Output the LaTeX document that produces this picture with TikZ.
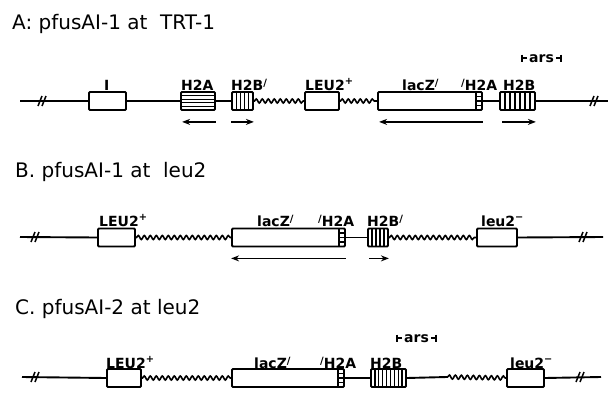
\documentclass[tikz,border=0pt]{standalone}
\usepackage{fontspec}
\setmainfont{DejaVu Sans}
\usetikzlibrary{arrows.meta,decorations.pathmorphing,calc}
\newcommand\prm{\raisebox{4pt}{\fontsize{10}{10}\selectfont /}}
\begin{document}
\begin{tikzpicture}[x=1pt,y=-1pt,
  dna/.style={line width=1.9pt},
  wavy/.style={line width=1.6pt, decorate, decoration={snake, segment length=6pt, amplitude=2pt, pre length=0.5pt, post length=0.5pt}},
  gene/.style={draw, line width=1.8pt, rounded corners=1pt, inner sep=0pt, minimum height=18pt, fill=white},
  lbl/.style={font=\fontsize{14}{14}\selectfont\bfseries, inner sep=0pt, anchor=base west},
  ttl/.style={font=\fontsize{20}{20}\selectfont, inner sep=0pt, anchor=base west},
  gar/.style={line width=1.7pt, -{Stealth[length=8pt,width=6pt]}},
  stripe/.style={line width=1.3pt},
  brk/.style={line width=1.5pt},
  tick/.style={line width=1.4pt},
  vstr/.style={path picture={\foreach \i in {1,...,#1}{\pgfmathsetmacro\f{\i/(#1+1)}
      \draw[stripe] ($(path picture bounding box.south west)!\f!(path picture bounding box.south east)$) -- ($(path picture bounding box.north west)!\f!(path picture bounding box.north east)$);}}},
  hstr/.style={path picture={\foreach \i in {1,...,#1}{\pgfmathsetmacro\f{\i/(#1+1)}
      \draw[stripe] ($(path picture bounding box.north west)!\f!(path picture bounding box.south west)$) -- ($(path picture bounding box.north east)!\f!(path picture bounding box.south east)$);}}},
  lzend/.style={path picture={\draw[stripe] ([xshift=-6pt]path picture bounding box.north east) -- ([xshift=-6pt]path picture bounding box.south east);
      \foreach \t in {0.25,0.5,0.75} \draw[stripe] ($(path picture bounding box.north east)!\t!(path picture bounding box.south east)$) -- ++(-6,0);}},
]
\useasboundingbox (0,0) rectangle (608,399);

% ---------------- Row A ----------------
\node[ttl] (tA) at (12,29) {A: pfusAI-1 at \ TRT-1};
\coordinate (sA) at (20,101);
\coordinate (eA) at (608,101);
\coordinate (bA1) at (43,101);
\coordinate (bA2) at (595,101);
\node[gene, minimum width=37pt] (IA) at (107.5,101) {};
\node[gene, minimum width=34pt, hstr=4] (h2aA) at (198,101) {};
\node[gene, minimum width=21pt, vstr=4] (h2bpA) at (242.5,101) {};
\node[gene, minimum width=34pt] (leuA) at (322,101) {};
\node[gene, minimum width=104pt, lzend] (lzA) at (430,101) {};
\node[gene, minimum width=35pt, vstr=6] (h2bA) at (517.5,101) {};
\draw[dna] (sA) -- (IA.west);
\draw[dna] (IA.east) -- (h2aA.west);
\draw[dna] (h2aA.east) -- (h2bpA.west);
\draw[wavy] (h2bpA.east) -- (leuA.west);
\draw[wavy] (leuA.east) -- (lzA.west);
\draw[dna] (lzA.east) -- (h2bA.west);
\draw[dna] (h2bA.east) -- (eA);
\draw[brk] (bA1) ++(-5,5) -- ++(4,-10) (bA1) ++(-1,5) -- ++(4,-10);
\draw[brk] (bA2) ++(-5,5) -- ++(4,-10) (bA2) ++(-1,5) -- ++(4,-10);
\node[lbl] (lIA) at (104,90) {I};
\node[lbl] (lh2aA) at (181,90) {H2A};
\node[lbl] (lh2bpA) at (231,90) {H2B\prm};
\node[lbl] (lleuA) at (305,90) {LEU2\textsuperscript{+}};
\node[lbl] (llzA) at (402,90) {lacZ\prm};
\node[lbl] (lh2a2A) at (461,90) {\prm H2A};
\node[lbl] (lh2bA) at (503,90) {H2B};
\node[lbl] (arsA) at (529,62) {ars};
\draw[tick] (arsA.west) ++(-2,0) -- ++(-5,0) ++(0,-3.5) -- ++(0,7);
\draw[tick] (arsA.east) ++(2,0) -- ++(5,0) ++(0,-3.5) -- ++(0,7);
\draw[gar] ([yshift=-11pt]h2aA.south east) -- ([yshift=-11pt,xshift=2pt]h2aA.south west);
\draw[gar] ([yshift=-11pt]h2bpA.south west) -- ([yshift=-11pt]h2bpA.south east);
\draw[gar] ([yshift=-11pt]lzA.south east) -- ([yshift=-11pt,xshift=2pt]lzA.south west);
\draw[gar] ([yshift=-11pt,xshift=3pt]h2bA.south west) -- ([yshift=-11pt]h2bA.south east);

% ---------------- Row B ----------------
\node[ttl] (tB) at (15,177) {B. pfusAI-1 at \ leu2};
\coordinate (sB) at (20,237);
\coordinate (eB) at (603,237);
\coordinate (bB1) at (36,237);
\coordinate (bB2) at (584,237);
\node[gene, minimum width=37pt] (leuB) at (116.5,237.5) {};
\node[gene, minimum width=113pt, lzend] (lzB) at (288.5,237.5) {};
\node[gene, minimum width=20pt, vstr=4] (h2bpB) at (378,237.5) {};
\node[gene, minimum width=40pt] (leumB) at (497,237.5) {};
\draw[dna] (sB) -- (leuB.west);
\draw[wavy] (leuB.east) -- (lzB.west);
\draw[dna] (lzB.east) -- (h2bpB.west);
\draw[wavy] (h2bpB.east) -- (leumB.west);
\draw[dna] (leumB.east) -- (eB);
\draw[brk] (bB1) ++(-5,5) -- ++(4,-10) (bB1) ++(-1,5) -- ++(4,-10);
\draw[brk] (bB2) ++(-5,5) -- ++(4,-10) (bB2) ++(-1,5) -- ++(4,-10);
\node[lbl] (lleuB) at (99,226) {LEU2\textsuperscript{+}};
\node[lbl] (llzB) at (257,226) {lacZ\prm};
\node[lbl] (lh2aB) at (318,226) {\prm H2A};
\node[lbl] (lh2bpB) at (367,226) {H2B\prm};
\node[lbl] (lleumB) at (481,226) {leu2\textsuperscript{\textminus}};
\draw[gar] ([yshift=-11pt]lzB.south east) -- ([yshift=-11pt]lzB.south west);
\draw[gar] ([yshift=-11pt,xshift=2pt]h2bpB.south west) -- ([yshift=-11pt]h2bpB.south east);

% ---------------- Row C ----------------
\node[ttl] (tC) at (15,314) {C. pfusAI-2 at leu2};
\coordinate (sC) at (22,377);
\coordinate (eC) at (601,377);
\coordinate (bC1) at (36,377);
\coordinate (bC2) at (581,377);
\coordinate (wC) at (447,377);
\node[gene, minimum width=34pt] (leuC) at (124,378) {};
\node[gene, minimum width=112pt, lzend] (lzC) at (288,378) {};
\node[gene, minimum width=35pt, vstr=8] (h2bC) at (388.5,378) {};
\node[gene, minimum width=37pt] (leumC) at (525.5,378) {};
\draw[dna] (sC) -- (leuC.west);
\draw[wavy] (leuC.east) -- (lzC.west);
\draw[dna] (lzC.east) -- (h2bC.west);
\draw[dna] (h2bC.east) -- (wC);
\draw[wavy] (wC) -- (leumC.west);
\draw[dna] (leumC.east) -- (eC);
\draw[brk] (bC1) ++(-5,5) -- ++(4,-10) (bC1) ++(-1,5) -- ++(4,-10);
\draw[brk] (bC2) ++(-5,5) -- ++(4,-10) (bC2) ++(-1,5) -- ++(4,-10);
\node[lbl] (lleuC) at (106,368) {LEU2\textsuperscript{+}};
\node[lbl] (llzC) at (254,368) {lacZ\prm};
\node[lbl] (lh2aC) at (320,368) {\prm H2A};
\node[lbl] (lh2bC) at (370,368) {H2B};
\node[lbl] (lleumC) at (510,368) {leu2\textsuperscript{\textminus}};
\node[lbl] (arsC) at (404,342) {ars};
\draw[tick] (arsC.west) ++(-2,0) -- ++(-5,0) ++(0,-3.5) -- ++(0,7);
\draw[tick] (arsC.east) ++(2,0) -- ++(5,0) ++(0,-3.5) -- ++(0,7);
\draw[gar] ([yshift=-18pt]lzC.south east) -- ([yshift=-18pt]lzC.south west);
\draw[gar] ([yshift=-18pt,xshift=3pt]h2bC.south west) -- ([yshift=-18pt]h2bC.south east);
\end{tikzpicture}
\end{document}
